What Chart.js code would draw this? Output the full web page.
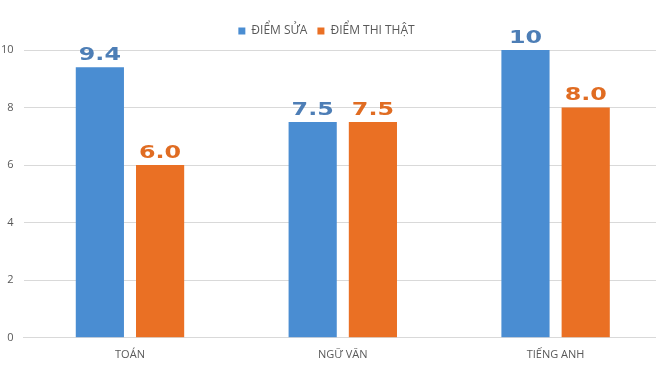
<!DOCTYPE html>
<html>
<head>
<meta charset="utf-8">
<script src="https://cdn.jsdelivr.net/npm/chart.js@4/dist/chart.umd.min.js"></script>
<style>
  html, body { margin: 0; padding: 0; background: #fff; overflow: hidden; }
  #wrap { width: 671px; height: 376px; margin-left: -9px; }
</style>
</head>
<body>
<div id="wrap"><canvas id="chart"></canvas></div>
<script>
const categories = ['TOÁN', 'NGỮ VĂN', 'TIẾNG ANH'];
const seriesNames = ['ĐIỂM SỬA', 'ĐIỂM THI THẬT'];
const fixedScores = [9.4, 7.5, 10];
const realScores = [6.0, 7.5, 8.0];
const fixedLabels = ['9.4', '7.5', '10'];
const realLabels = ['6.0', '7.5', '8.0'];
const yTicks = [0, 2, 4, 6, 8, 10];

const C = {
  blue: '#4A8DD2',
  orange: '#EA7024',
  blueText: '#4D7EB6',
  orangeText: '#E06C22',
  text: '#595959',
  grid: '#D9D9D9',
};

const legendGap = {
  id: 'legendGap',
  beforeInit(chart) {
    const fit = chart.legend.fit;
    chart.legend.fit = function () {
      fit.call(this);
      this.height += 3;
    };
  },
};

const valueLabels = {
  id: 'valueLabels',
  afterDatasetsDraw(chart) {
    const ctx = chart.ctx;
    const texts = [fixedLabels, realLabels];
    const colors = [C.blueText, C.orangeText];
    chart.data.datasets.forEach((ds, di) => {
      const meta = chart.getDatasetMeta(di);
      meta.data.forEach((bar, i) => {
        ctx.save();
        ctx.translate(bar.x, bar.y - 3);
        ctx.scale(1.4, 1);
        ctx.font = "bold 17px 'DejaVu Sans', sans-serif";
        ctx.fillStyle = colors[di];
        ctx.textAlign = 'center';
        ctx.textBaseline = 'bottom';
        ctx.fillText(texts[di][i], 0, 0);
        ctx.restore();
      });
    });
  },
};

new Chart(document.getElementById('chart').getContext('2d'), {
  type: 'bar',
  data: {
    labels: categories,
    datasets: [
      { label: seriesNames[0], data: fixedScores, backgroundColor: C.blue, barPercentage: 0.8, categoryPercentage: 0.566 },
      { label: seriesNames[1], data: realScores, backgroundColor: C.orange, barPercentage: 0.8, categoryPercentage: 0.566 },
    ],
  },
  options: {
    responsive: true,
    maintainAspectRatio: false,
    animation: false,
    layout: { padding: { top: 15, left: 0, right: 0, bottom: 13 } },
    plugins: {
      legend: {
        position: 'top',
        labels: {
          color: C.text,
          boxWidth: 7,
          boxHeight: 7,
          padding: 10,
          font: { family: "'Open Sans', sans-serif", size: 12 },
        },
      },
      tooltip: { enabled: false },
    },
    scales: {
      x: {
        grid: { display: false },
        border: { color: C.grid },
        ticks: { color: C.text, padding: 2, font: { family: "'Open Sans', sans-serif", size: 11 } },
      },
      y: {
        min: 0,
        max: 10,
        afterBuildTicks: (axis) => { axis.ticks = yTicks.map((v) => ({ value: v })); },
        grid: { color: C.grid, drawTicks: false },
        border: { display: false },
        ticks: { color: C.text, padding: 10, font: { family: "'Open Sans', sans-serif", size: 11 } },
      },
    },
  },
  plugins: [legendGap, valueLabels],
});
</script>
</body>
</html>
